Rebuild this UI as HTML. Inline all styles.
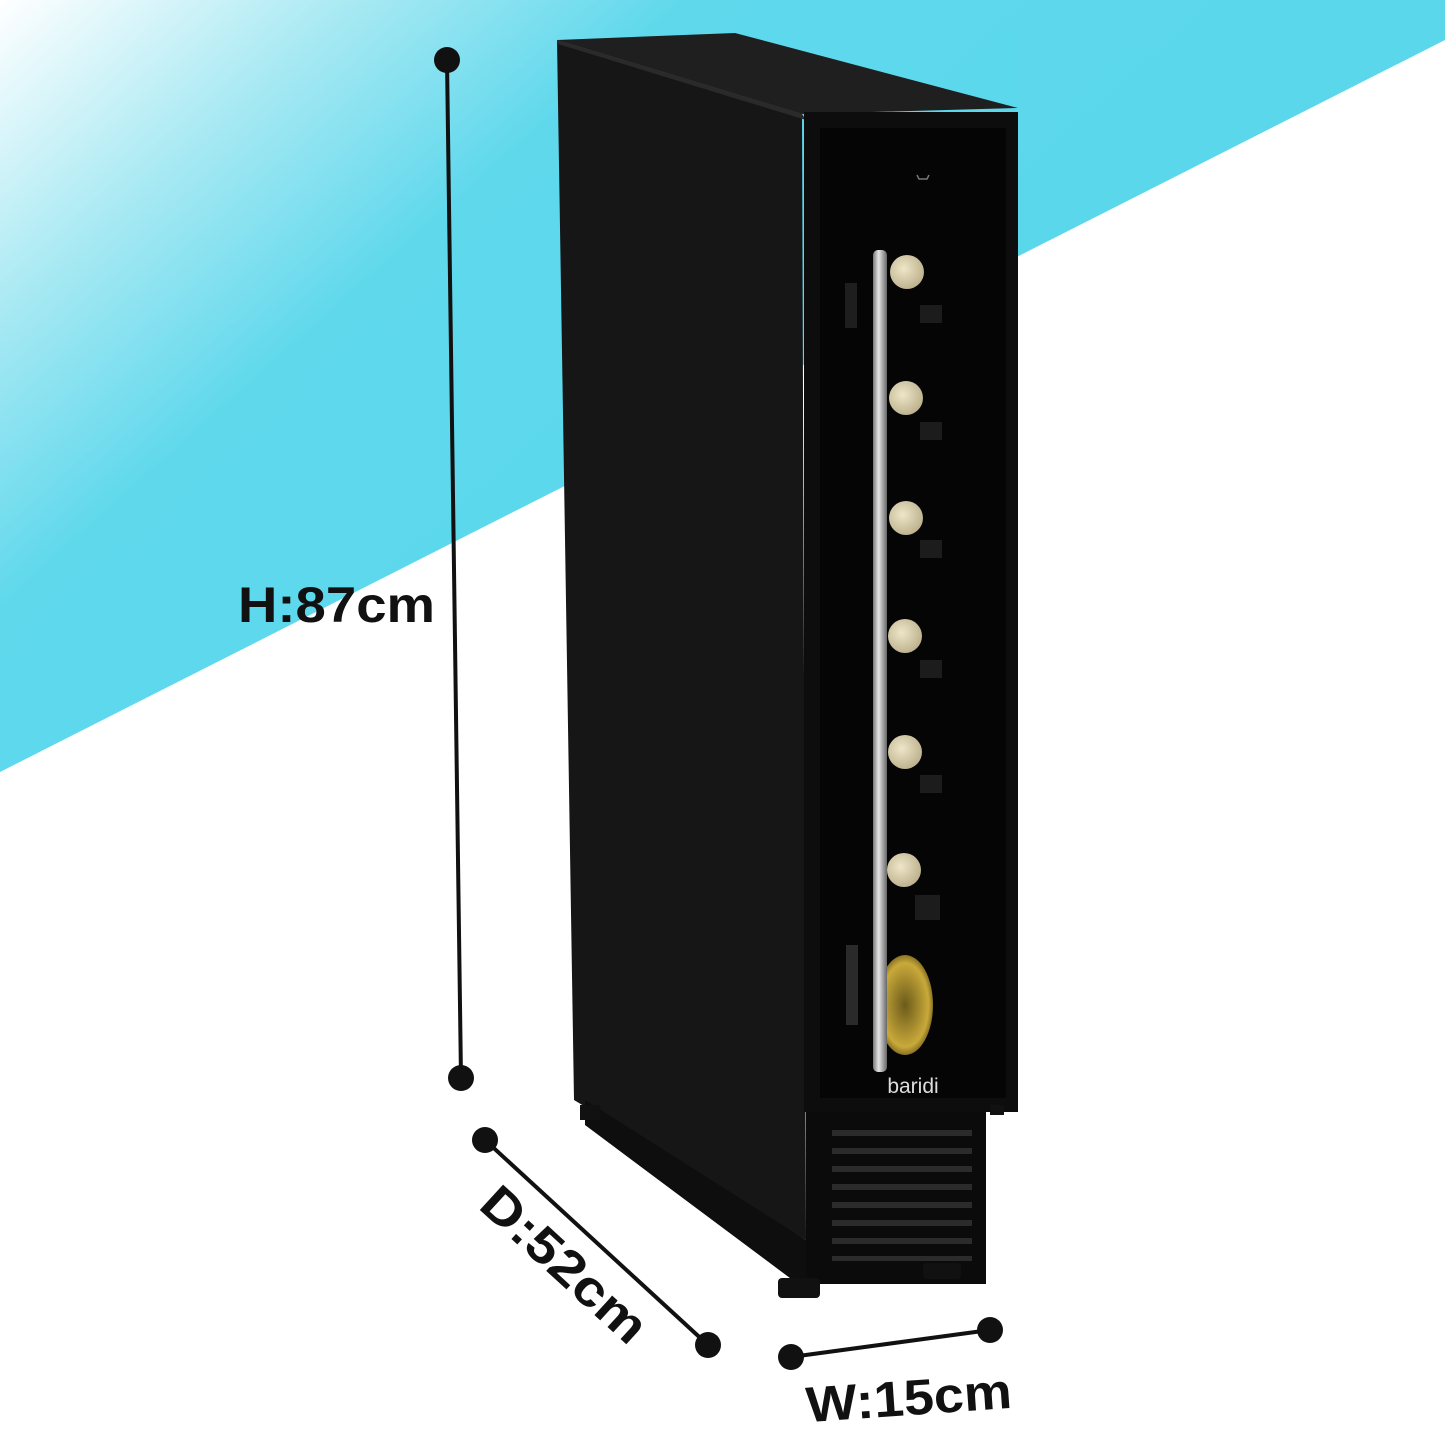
<!DOCTYPE html>
<html><head><meta charset="utf-8"><style>
html,body{margin:0;padding:0;background:#fff}
svg{display:block}
text{font-family:"Liberation Sans",sans-serif;font-weight:bold;fill:#111}
</style></head><body>
<svg width="1445" height="1445" viewBox="0 0 1445 1445" xmlns="http://www.w3.org/2000/svg">
<defs>
<linearGradient id="bg" x1="0" y1="0" x2="1" y2="0.6">
<stop offset="0" stop-color="#ffffff"/>
<stop offset="0.18" stop-color="#a8e9f3"/>
<stop offset="0.35" stop-color="#5fd8ec"/>
<stop offset="1" stop-color="#56d6ea"/>
</linearGradient>
<linearGradient id="hdl" x1="0" y1="0" x2="1" y2="0">
<stop offset="0" stop-color="#777"/><stop offset="0.4" stop-color="#e6e6e6"/><stop offset="1" stop-color="#666"/>
</linearGradient>
<radialGradient id="cork" cx="0.4" cy="0.4" r="0.7">
<stop offset="0" stop-color="#eee6c8"/><stop offset="1" stop-color="#b7ac88"/>
</radialGradient>
<radialGradient id="gold" cx="0.5" cy="0.5" r="0.6">
<stop offset="0" stop-color="#6b5a1a"/><stop offset="0.7" stop-color="#c9a93a"/><stop offset="1" stop-color="#3a2f0a"/>
</radialGradient>
</defs>
<rect width="1445" height="1445" fill="#fff"/>
<polygon points="0,0 1445,0 1445,40 0,772" fill="url(#bg)"/>

<polygon points="557,40 802,114 806,1240 574,1100" fill="#161616"/>
<polygon points="557,40 735,33 1018,108 802,114" fill="#1f1f1f"/>
<polygon points="557,40 802,114 806,120 558,44" fill="#2a2a2a"/>
<polygon points="585,1100 806,1240 806,1290 585,1125" fill="#0e0e0e"/>
<rect x="804" y="112" width="214" height="1000" fill="#0d0d0d"/>
<rect x="820" y="128" width="186" height="970" fill="#050505"/>
<g fill="#1c1c1c">
<rect x="920" y="305" width="22" height="18"/><rect x="920" y="422" width="22" height="18"/>
<rect x="920" y="540" width="22" height="18"/><rect x="920" y="660" width="22" height="18"/>
<rect x="920" y="775" width="22" height="18"/><rect x="915" y="895" width="25" height="25"/>
</g>
<g fill="url(#cork)">
<circle cx="907" cy="272" r="17"/><circle cx="906" cy="398" r="17"/>
<circle cx="906" cy="518" r="17"/><circle cx="905" cy="636" r="17"/>
<circle cx="905" cy="752" r="17"/><circle cx="904" cy="870" r="17"/>
</g>
<ellipse cx="905" cy="1005" rx="28" ry="50" fill="url(#gold)"/>
<rect x="846" y="945" width="12" height="80" fill="#2a2a2a"/>
<rect x="845" y="283" width="12" height="45" fill="#1e1e1e"/>
<rect x="873" y="250" width="14" height="822" rx="5" fill="url(#hdl)"/>
<path d="M917,175 l2,4 h8 l2,-4" stroke="#777" stroke-width="1.5" fill="none"/>
<text x="913" y="1093" font-size="21" style="font-weight:normal;fill:#ddd" text-anchor="middle">baridi</text>
<rect x="806" y="1112" width="180" height="172" fill="#0b0b0b"/>
<g fill="#2b2b2b">
<rect x="832" y="1130" width="140" height="6"/><rect x="832" y="1148" width="140" height="6"/>
<rect x="832" y="1166" width="140" height="6"/><rect x="832" y="1184" width="140" height="6"/>
<rect x="832" y="1202" width="140" height="6"/><rect x="832" y="1220" width="140" height="6"/>
<rect x="832" y="1238" width="140" height="6"/><rect x="832" y="1256" width="140" height="5"/>
</g>
<rect x="778" y="1278" width="42" height="20" rx="4" fill="#111"/>
<rect x="923" y="1263" width="38" height="16" rx="4" fill="#111"/>
<rect x="580" y="1105" width="20" height="15" fill="#111"/>
<rect x="990" y="1105" width="14" height="10" fill="#111"/>

<g stroke="#111" stroke-width="4">
<line x1="447" y1="60" x2="461" y2="1078"/>
<line x1="485" y1="1140" x2="708" y2="1345"/>
<line x1="791" y1="1357" x2="990" y2="1330"/>
</g>
<g fill="#111">
<circle cx="447" cy="60" r="13"/><circle cx="461" cy="1078" r="13"/>
<circle cx="485" cy="1140" r="13"/><circle cx="708" cy="1345" r="13"/>
<circle cx="791" cy="1357" r="13"/><circle cx="990" cy="1330" r="13"/>
</g>
<text x="238" y="622" font-size="50" textLength="197" lengthAdjust="spacingAndGlyphs">H:87cm</text>
<text x="-103" y="0" font-size="50" textLength="206" lengthAdjust="spacingAndGlyphs" transform="translate(553,1277) rotate(42.5)">D:52cm</text>
<text x="-103" y="0" font-size="50" textLength="206" lengthAdjust="spacingAndGlyphs" transform="translate(910,1415) rotate(-4)">W:15cm</text>
</svg>
</body></html>
